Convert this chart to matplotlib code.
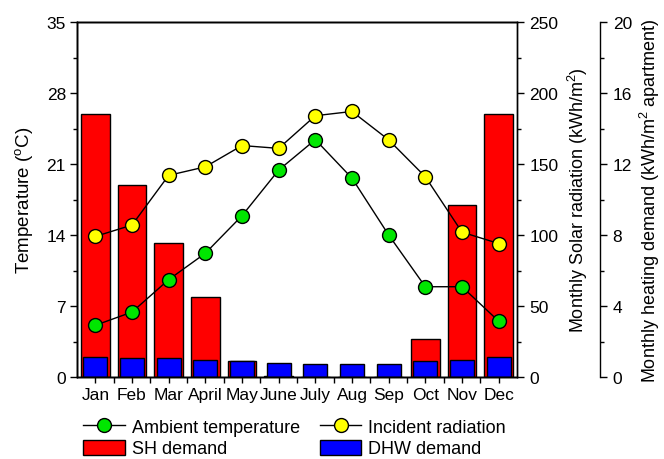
import numpy as np
import matplotlib.pyplot as plt
from matplotlib.ticker import MultipleLocator

plt.rcParams['font.family'] = ['Liberation Sans', 'DejaVu Sans']
plt.rcParams['mathtext.default'] = 'regular'

months = ['Jan', 'Feb', 'Mar', 'April', 'May', 'June', 'July', 'Aug', 'Sep', 'Oct', 'Nov', 'Dec']
ambient_temp = [5.1, 6.4, 9.6, 12.2, 15.9, 20.4, 23.4, 19.6, 14.0, 8.9, 8.9, 5.5]      # degC
radiation = [99, 107, 142, 148, 163, 161, 184, 187, 167, 141, 102, 94]                  # kWh/m2
sh_demand = [14.8, 10.8, 7.55, 4.5, 0.9, 0.05, 0, 0, 0, 2.15, 9.7, 14.8]                # kWh/m2 apartment
dhw_demand = [1.14, 1.06, 1.09, 0.98, 0.88, 0.81, 0.74, 0.74, 0.75, 0.90, 0.98, 1.11]   # kWh/m2 apartment

x = np.arange(len(months))

fig = plt.figure(figsize=(6.64, 4.6), dpi=100)
ax1 = fig.add_axes([77 / 664, 1 - 378 / 460, 440 / 664, 355 / 460])
ax2 = ax1.twinx()
ax3 = ax1.twinx()
ax3.spines['right'].set_position(('axes', 1.189))

# bars sit underneath both line series
ax3.set_zorder(0)
ax1.set_zorder(1)
ax2.set_zorder(2)
ax1.patch.set_visible(False)

sh = ax3.bar(x, sh_demand, width=0.78, color='#ff0000', edgecolor='black', linewidth=1, label='SH demand')
dhw = ax3.bar(x, dhw_demand, width=0.65, color='#0000ff', edgecolor='black', linewidth=1, label='DHW demand')

amb, = ax1.plot(x, ambient_temp, '-o', color='black', lw=1, ms=10, mfc='#00e600', mec='black', mew=1,
                label='Ambient temperature')
rad, = ax2.plot(x, radiation, '-o', color='black', lw=1, ms=10, mfc='#ffff00', mec='black', mew=1,
                label='Incident radiation')

ax1.set_xlim(-0.5, 11.5)
ax1.set_xticks(x)
ax1.set_xticklabels(months)
ax1.set_xticks(x[1:] - 0.5, minor=True)

ax1.set_ylim(0, 35)
ax1.yaxis.set_major_locator(MultipleLocator(7))
ax1.yaxis.set_minor_locator(MultipleLocator(3.5))
ax2.set_ylim(0, 250)
ax2.yaxis.set_major_locator(MultipleLocator(50))
ax2.yaxis.set_minor_locator(MultipleLocator(25))
ax3.set_ylim(0, 20)
ax3.yaxis.set_major_locator(MultipleLocator(4))
ax3.yaxis.set_minor_locator(MultipleLocator(2))

for ax in (ax1, ax2, ax3):
    ax.tick_params(which='major', direction='out', length=5, width=1, labelsize=12.5, pad=3)
    ax.tick_params(which='minor', direction='out', length=3, width=1)
    for s in ax.spines.values():
        s.set_linewidth(1)
ax1.tick_params(axis='x', which='both', length=4)
ax2.tick_params(axis='y', pad=4)
ax3.tick_params(axis='y', pad=4)

ax1.set_ylabel('Temperature ($^{o}$C)', fontsize=13.5)
ax2.set_ylabel('Monthly Solar radiation (kWh/m$^{2}$)', fontsize=13)
ax3.set_ylabel('Monthly heating demand (kWh/m$^{2}$ apartment)', fontsize=13)
for ax, xpos in ((ax1, -0.12), (ax2, 1.139), (ax3, 1.302)):
    ax.yaxis.label.set_va('center')
    ax.yaxis.set_label_coords(xpos, 0.5)

fig.legend([amb, sh, rad, dhw],
           ['Ambient temperature', 'SH demand', 'Incident radiation', 'DHW demand'],
           ncol=2, loc='upper left', bbox_to_anchor=(83 / 664, 1 - 419 / 460),
           frameon=False, fontsize=13, borderpad=0, borderaxespad=0,
           handlelength=2.3, handleheight=0.9, handletextpad=0.4,
           columnspacing=1.1, labelspacing=0.22)

fig.savefig('out.png', dpi=100)
